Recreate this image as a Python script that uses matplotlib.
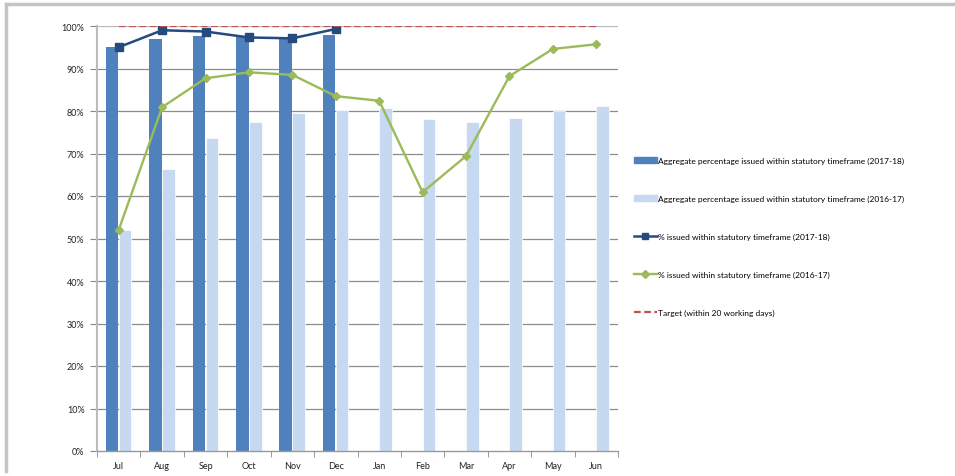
#!/usr/bin/env python3
import matplotlib
matplotlib.use("Agg")
import matplotlib.pyplot as plt
from matplotlib.lines import Line2D

plt.rcParams["font.family"] = ["Lato", "DejaVu Sans"]

# Data
months = ["Jul", "Aug", "Sep", "Oct", "Nov", "Dec", "Jan", "Feb", "Mar", "Apr", "May", "Jun"]
agg_2017_18 = [95.0, 97.0, 97.6, 97.4, 97.2, 97.8]
agg_2016_17 = [52.0, 66.4, 73.6, 77.5, 79.6, 80.3, 80.7, 78.2, 77.3, 78.4, 79.9, 81.2]
pct_2017_18 = [95.0, 99.0, 98.7, 97.3, 97.1, 99.3]
pct_2016_17 = [52.0, 80.9, 87.7, 89.1, 88.5, 83.5, 82.4, 60.9, 69.4, 88.2, 94.6, 95.7]
target = [100] * len(months)

labels = [
    "Aggregate percentage issued within statutory timeframe (2017-18)",
    "Aggregate percentage issued within statutory timeframe (2016-17)",
    "% issued within statutory timeframe (2017-18)",
    "% issued within statutory timeframe (2016-17)",
    "Target (within 20 working days)",
]

dpi = 100
fig = plt.figure(figsize=(9.55, 4.77), dpi=dpi)
ax = fig.add_axes([97 / 955, 25 / 477, 521 / 955, 425 / 477])

x = list(range(len(months)))
x_dark = [i - 0.155 for i in x[:len(agg_2017_18)]]
x_light = [i + 0.145 for i in x]

ax.bar(x_dark, agg_2017_18, width=0.29, color="#4F81BD", zorder=2)
ax.bar(x_light, agg_2016_17, width=0.29, color="#C6D9F1", edgecolor="white", linewidth=0.5, zorder=2)
ax.plot(x[:len(pct_2017_18)], pct_2017_18, color="#254A7E", lw=1.8, marker="s", ms=6, zorder=4)
ax.plot(x, pct_2016_17, color="#9BBB59", lw=1.7, marker="D", ms=4.5, zorder=4)
ax.plot(x, target, color="#C0504D", lw=1.6, ls=(0, (3, 1.6)), zorder=5)

ax.set_xlim(-0.5, len(months) - 0.5)
ax.set_ylim(0, 100)
ax.set_yticks(range(0, 101, 10))
ax.set_yticklabels([f"{v}%" for v in range(0, 101, 10)], fontsize=6.5, color="#222222")
ax.set_xticks(x)
ax.set_xticklabels(months, fontsize=6.5, color="#222222")
ax.set_xticks([i - 0.5 for i in range(len(months) + 1)], minor=True)
ax.tick_params(axis="x", which="major", length=0, pad=7)
ax.tick_params(axis="x", which="minor", length=4, color="#888888", direction="out")
ax.tick_params(axis="y", length=5, color="#888888", pad=4)

for v in range(10, 101, 10):
    ax.axhline(v, color="#8C8C8C" if v < 100 else "#BBBBBB", lw=0.9, zorder=1)

for side in ["top", "right"]:
    ax.spines[side].set_visible(False)
ax.spines["left"].set_color("#BBBBBB")
ax.spines["left"].set_linewidth(1.5)
ax.spines["bottom"].set_color("#999999")
ax.spines["bottom"].set_linewidth(1.0)

handles = [
    plt.Rectangle((0, 0), 1, 1, color="#4F81BD"),
    plt.Rectangle((0, 0), 1, 1, color="#C6D9F1"),
    Line2D([], [], color="#254A7E", lw=1.8, marker="s", ms=5),
    Line2D([], [], color="#9BBB59", lw=1.7, marker="D", ms=4),
    Line2D([], [], color="#C0504D", lw=1.6, ls=(0, (3, 1.6))),
]
fig.legend(handles, labels, loc="upper left", bbox_to_anchor=(626 / 955, 1 - 150 / 477),
           frameon=False, fontsize=6, handlelength=2.8, handleheight=0.7,
           handletextpad=0.15, labelspacing=3.72)

# outer frame lines (top and left)
fig.add_artist(Line2D([6 / 955, 1], [1 - 5 / 477, 1 - 5 / 477], color="#C4C4C8", lw=2.5))
fig.add_artist(Line2D([6 / 955, 6 / 955], [1 - 5 / 477, 1 - 472 / 477], color="#C4C4C8", lw=2.5))

plt.savefig("out.png", dpi=dpi)
plt.close(fig)
